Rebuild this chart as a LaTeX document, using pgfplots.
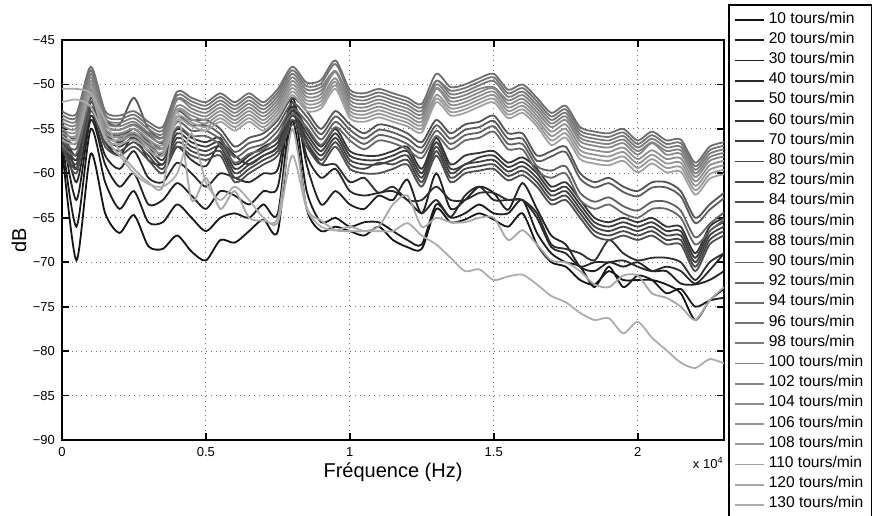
\documentclass[border=0pt]{standalone}
\usepackage{pgfplots}
\pgfplotsset{compat=1.18}
\usepackage{pgfplotstable}
\usepackage{fontspec}
\setmainfont{Liberation Sans}

\definecolor{c10}{gray}{0.08}
\definecolor{c20}{gray}{0.105}
\definecolor{c30}{gray}{0.13}
\definecolor{c40}{gray}{0.155}
\definecolor{c50}{gray}{0.18}
\definecolor{c60}{gray}{0.205}
\definecolor{c70}{gray}{0.23}
\definecolor{c80}{gray}{0.255}
\definecolor{c82}{gray}{0.28}
\definecolor{c84}{gray}{0.305}
\definecolor{c86}{gray}{0.33}
\definecolor{c88}{gray}{0.355}
\definecolor{c90}{gray}{0.38}
\definecolor{c92}{gray}{0.405}
\definecolor{c94}{gray}{0.43}
\definecolor{c96}{gray}{0.455}
\definecolor{c98}{gray}{0.48}
\definecolor{c100}{gray}{0.505}
\definecolor{c102}{gray}{0.53}
\definecolor{c104}{gray}{0.555}
\definecolor{c106}{gray}{0.58}
\definecolor{c108}{gray}{0.605}
\definecolor{c110}{gray}{0.63}
\definecolor{c120}{gray}{0.655}
\definecolor{c130}{gray}{0.68}

\pgfplotstableread{
f t94 t96 t98 t100 t102 t104 t106 t108 t110
0 -53 -53.4 -53.8 -54.2 -54.6 -55 -55.4 -55.8 -56.2
500 -53.3 -53.7 -54.1 -54.5 -54.9 -55.3 -55.7 -56.1 -56.5
1000 -48 -48.4 -48.8 -49.2 -49.6 -50 -50.4 -50.8 -51.2
1500 -53 -53.4 -53.8 -54.2 -54.6 -55 -55.4 -55.8 -56.2
2000 -53.5 -53.9 -54.3 -54.7 -55.1 -55.5 -55.9 -56.3 -56.7
2500 -53 -53.4 -53.8 -54.2 -54.6 -55 -55.4 -55.8 -56.2
3000 -54.2 -54.6 -55 -55.4 -55.8 -56.2 -56.6 -57 -57.4
3500 -54.8 -55.2 -55.6 -56 -56.4 -56.8 -57.2 -57.6 -58
4000 -50.8 -51.2 -51.6 -51.7 -52.4 -52.8 -52.9 -53.6 -54
4500 -51.5 -51.9 -52.3 -52.7 -53.1 -53.5 -53.9 -54.3 -54.7
5000 -52 -52.4 -52.8 -53.2 -53.6 -54 -54.4 -54.8 -55.2
5500 -51 -51.4 -51.8 -52.2 -52.6 -53 -53.4 -53.8 -54.2
6000 -52 -52.4 -52.8 -53.2 -53.6 -54 -54.4 -54.8 -55.2
6500 -51 -51.4 -51.8 -52.2 -52.6 -53 -53.4 -53.8 -54.2
7000 -52 -52.4 -52.8 -53.2 -53.6 -54 -54.4 -54.8 -55.2
7500 -50.5 -50.9 -51.3 -51.7 -52.1 -52.5 -52.9 -53.3 -53.7
8000 -48 -48.4 -48.8 -49.2 -49.6 -50 -50.4 -50.8 -51.2
8500 -49.8 -50.2 -50.6 -51 -51.4 -51.8 -52.2 -52.6 -53
9000 -49.5 -49.9 -50.3 -50.7 -51.1 -51.5 -51.9 -52.3 -52.7
9500 -47.3 -47.7 -48.5 -48.5 -48.6 -49.3 -49.7 -50.1 -50.5
10000 -50.6 -51 -51.4 -51.8 -52.2 -52.6 -53 -53.4 -53.8
10500 -51 -51.4 -51.8 -52.2 -52.6 -53 -53.4 -53.8 -54.2
11000 -50.5 -50.9 -51.3 -51.7 -52.1 -52.5 -52.9 -53.3 -53.7
11500 -51 -51.4 -51.8 -52.2 -52.6 -53 -53.4 -53.8 -54.2
12000 -51.5 -51.9 -52.3 -52.7 -53.1 -53.5 -53.9 -54.3 -54.7
12500 -52.2 -52.6 -53 -53.4 -53.8 -54.2 -54.6 -55 -55.4
13000 -48.8 -49.6 -49.6 -50 -50.4 -50.5 -51.2 -51.6 -52
13500 -50.3 -50.7 -51.1 -51.5 -51.9 -52.3 -52.7 -53.1 -53.5
14000 -50 -50.4 -50.8 -51.2 -51.6 -52 -52.4 -52.8 -53.2
14500 -49.3 -49.7 -50.1 -50.5 -50.9 -51.3 -51.7 -52.1 -52.5
15000 -48.8 -49.2 -49.6 -50.3 -50.4 -50.8 -51.2 -51.6 -52
15500 -50.6 -51 -51.4 -51.8 -52.2 -52.6 -53 -53.4 -53.8
16000 -50 -50.4 -50.8 -51.2 -51.6 -52 -52.4 -52.8 -53.2
16500 -51.5 -51.9 -52.3 -52.7 -53.1 -53.5 -53.9 -54.3 -54.7
17000 -53.2 -53.6 -54 -54.4 -54.8 -55.3 -55.8 -56.3 -56.8
17500 -52.4 -52.8 -53.2 -53.6 -54 -54.5 -55 -55.5 -56
18000 -54.8 -55.2 -55.6 -56 -56.4 -56.9 -57.4 -57.9 -58.4
18500 -55.3 -55.7 -56.1 -56.5 -56.9 -57.4 -57.9 -58.4 -58.9
19000 -55.5 -55.9 -56.3 -56.7 -57.1 -57.6 -58.1 -58.6 -59.1
19500 -55 -55.4 -55.8 -56.2 -56.6 -57.1 -57.6 -58.1 -58.6
20000 -56.3 -56.7 -57.1 -57.5 -57.9 -58.4 -58.9 -59.4 -59.9
20500 -55.3 -55.7 -56.1 -56.5 -56.6 -57.4 -57.9 -58.4 -58.9
21000 -56.3 -56.7 -57.1 -57.5 -57.9 -58.4 -58.9 -59.4 -59.9
21500 -56.2 -56.6 -57 -57.4 -57.8 -58.3 -58.8 -59.3 -59.8
22000 -58.8 -59.2 -59.6 -60 -60.4 -60.9 -61.4 -61.9 -62.4
22500 -57 -57.4 -57.8 -58.2 -58.6 -59.1 -59.6 -60.1 -60.6
23000 -56.5 -56.9 -57.3 -57.7 -58.1 -58.6 -59.1 -59.6 -60.1
}\tabT

\pgfplotstableread{
f b60 b70 b80 b82 b84 b86 b88 b90 b92
0 -55 -55.5 -56 -56.5 -57 -55 -55.6 -56.2 -56.8
500 -58 -58.5 -59 -59.5 -60 -56 -56.6 -57.2 -57.8
1000 -51 -51.5 -52 -52.5 -53 -50 -50.6 -51.2 -51.8
1500 -55 -55.5 -56 -56.5 -57 -54 -54.6 -55.2 -55.8
2000 -56 -56.5 -57 -57.5 -58 -54.5 -55.1 -55.7 -56.3
2500 -55 -55.5 -56 -56.5 -57 -51.5 -54.5 -55 -55.5
3000 -56.5 -57 -57.5 -58 -58.5 -55 -55.6 -56.2 -56.8
3500 -58 -58.5 -59 -59.5 -60 -56 -56.6 -57.2 -57.8
4000 -55 -55.5 -56 -56.5 -57 -53 -53.6 -54.2 -54.8
4500 -56 -56.5 -57 -57.5 -58 -54 -54.6 -55.2 -55.8
5000 -56.5 -57 -57.5 -58 -58.5 -54 -54.6 -55.2 -55.8
5500 -56 -56.5 -57 -57.5 -58 -55 -55.6 -56.2 -56.8
6000 -59 -59.5 -60 -60.5 -61 -57 -57.6 -58.2 -58.8
6500 -58 -58.5 -59 -59.5 -60 -56 -56.6 -57.2 -57.8
7000 -57 -57.5 -58 -58.5 -59 -55.5 -56.1 -56.7 -57.3
7500 -56 -56.5 -57 -57.5 -58 -54 -54.6 -55.2 -55.8
8000 -52.5 -53 -53.5 -54 -54.5 -51.5 -52.1 -52.7 -53.3
8500 -55 -55.5 -56 -56.5 -57 -53 -53.6 -54.2 -54.8
9000 -57 -57.5 -58 -58.5 -59 -55 -55.6 -56.2 -56.8
9500 -55 -55.5 -56 -56.5 -57 -53 -53.6 -54.2 -54.8
10000 -57.5 -58 -58.5 -59 -59.5 -54.5 -55.1 -55.7 -56.3
10500 -58 -58.5 -59 -59.5 -60 -55.5 -56.1 -56.7 -57.3
11000 -58 -58.5 -59 -58.8 -60 -54.5 -55.1 -55.7 -56.3
11500 -57.5 -58 -58.5 -59 -59.5 -54.8 -55.4 -56 -56.6
12000 -57 -57.5 -58 -58.5 -59 -55.5 -56.1 -56.7 -57.3
12500 -59.5 -60 -60.5 -61 -61.5 -56.5 -57.1 -57.7 -58.3
13000 -56 -56.5 -57 -57.5 -58 -54 -54.6 -55.2 -55.8
13500 -59 -59.5 -60 -60.5 -61 -55.5 -56.1 -56.7 -57.3
14000 -58 -59 -59 -59.5 -60 -54.5 -55.1 -55.7 -56.3
14500 -57.7 -58.2 -58.7 -59.2 -59.7 -54.2 -54.8 -55.4 -56
15000 -57.5 -58 -58.5 -59 -59.5 -53.5 -54.1 -54.7 -55.3
15500 -58.8 -59.3 -59.8 -60.3 -60.8 -55.5 -56.1 -56.7 -57.3
16000 -58.2 -58.7 -59.2 -59.7 -60.2 -55.5 -56.1 -56.7 -57.3
16500 -59.5 -60 -60.5 -61 -61.5 -58 -58.6 -59.2 -59.8
17000 -61.5 -62 -62.5 -63 -63.5 -57.5 -58.1 -59.7 -60.5
17500 -61 -61.5 -62 -62.5 -63 -57 -57.6 -59.2 -60
18000 -63 -63.5 -64 -64.5 -65 -60 -60.6 -62.2 -63
18500 -65 -65.5 -66 -66.5 -67 -61 -61.6 -63.2 -64
19000 -65.5 -66 -66.5 -67 -67.5 -60.5 -61.1 -62.7 -63.5
19500 -65 -65.5 -66 -66.5 -67 -61.5 -62.1 -63.7 -64.5
20000 -65.5 -66 -66.5 -67 -67.5 -62 -62.6 -64.2 -65
20500 -65 -65.5 -66 -66.5 -67 -61 -61.6 -63.2 -64
21000 -66 -66.5 -67 -67.5 -68 -61 -61.6 -63.2 -64
21500 -66 -66.5 -67 -67.5 -68 -62 -62.6 -64.2 -65
22000 -69 -69.5 -70 -70.5 -71 -65 -65.6 -67.2 -68
22500 -66 -66.5 -67 -67.5 -68 -63.5 -64.1 -65.7 -66.5
23000 -65 -65.5 -66 -66.5 -67 -62.2 -62.8 -64.4 -65.2
}\tabB

\begin{document}
\begin{tikzpicture}
\path[use as bounding box] (0,0) rectangle (436pt,257.5pt);
\clip (0,0) rectangle (436pt,257.5pt);
\begin{axis}[
  name=ax,
  at={(31pt,37.5pt)}, anchor=south west,
  scale only axis, width=331pt, height=200pt,
  xmin=0, xmax=23000, ymin=-90, ymax=-45,
  xtick={0,5000,10000,15000,20000},
  xticklabels={0,0.5,1,1.5,2},
  ytick={-90,-85,-80,-75,-70,-65,-60,-55,-50,-45},
  yticklabels={−90,−85,−80,−75,−70,−65,−60,−55,−50,−45},
  scaled x ticks=false,
  xmajorgrids, ymajorgrids,
  major grid style={dotted, black!55, line width=0.45pt},
  axis line style={line width=1pt},
  tick align=inside,
  major tick length=3.5pt,
  every tick/.style={black, line width=0.9pt},
  tick label style={font=\fontsize{6.5}{7}\selectfont},
  xlabel={Fréquence (Hz)}, ylabel={dB},
  label style={font=\fontsize{9.15}{10}\selectfont},
  every axis x label/.style={at={(axis description cs:0.5,0)}, anchor=center, yshift=-16pt},
  every axis y label/.style={at={(axis description cs:0,0.5)}, rotate=90, anchor=center, yshift=21.5pt},
  every axis plot/.append style={smooth, tension=0.45},
  legend cell align=left,
  legend image code/.code={\draw[#1, line width=0.9pt] (0pt,0pt) -- (14.5pt,0pt);},
  legend style={at={(axis description cs:1.006,1.09)}, anchor=north west,
    draw=black, line width=1pt, fill=white, inner xsep=2.5pt, inner ysep=2.5pt,
    row sep=0pt, font=\fontsize{7.8}{9}\selectfont,
    nodes={inner xsep=2pt, inner ysep=0pt, text height=6.5pt, text depth=3.6pt}},
]
\addplot[c10, line width=0.9pt] coordinates {(0,-57) (500,-69.8) (1000,-57.8) (1500,-64.5) (2000,-66.7) (2500,-64.7) (3000,-68.2) (3500,-68.5) (4000,-67) (4500,-68.8) (5000,-69.8) (5500,-67.5) (6000,-67.8) (6500,-66.5) (7000,-65.2) (7500,-66.5) (8000,-54) (8500,-64) (9000,-66.5) (9500,-66) (10000,-66.5) (10500,-67) (11000,-66) (11500,-67.5) (12000,-68.3) (12500,-68.5) (13000,-64) (13500,-65.5) (14000,-65.2) (14500,-64.5) (15000,-65.2) (15500,-66) (16000,-64.5) (16500,-68) (17000,-70) (17500,-70.5) (18000,-72) (18500,-72.5) (19000,-71) (19500,-72) (20000,-72) (20500,-72) (21000,-72.5) (21500,-73.5) (22000,-76.5) (22500,-74.3) (23000,-73)};
\addplot[c20, line width=0.9pt] coordinates {(0,-56) (500,-66) (1000,-55) (1500,-61) (2000,-64) (2500,-62) (3000,-65.5) (3500,-65.5) (4000,-63.5) (4500,-65) (5000,-66.5) (5500,-65) (6000,-64.5) (6500,-65) (7000,-63.5) (7500,-64.5) (8000,-52.5) (8500,-62) (9000,-65.5) (9500,-65) (10000,-66) (10500,-65.5) (11000,-65.5) (11500,-66.5) (12000,-67.5) (12500,-68) (13000,-63.5) (13500,-65) (14000,-64.5) (14500,-63.5) (15000,-64.5) (15500,-64.5) (16000,-63) (16500,-66.7) (17000,-69) (17500,-70) (18000,-70.5) (18500,-72.8) (19000,-70.5) (19500,-72.8) (20000,-71.5) (20500,-72) (21000,-73.5) (21500,-73) (22000,-75) (22500,-74.3) (23000,-74)};
\addplot[c30, line width=0.9pt] coordinates {(0,-55) (500,-63) (1000,-54) (1500,-59) (2000,-61.5) (2500,-60) (3000,-63.5) (3500,-63) (4000,-61.1) (4500,-62.5) (5000,-64) (5500,-62) (6000,-62.5) (6500,-63.5) (7000,-62) (7500,-61.5) (8000,-51.5) (8500,-59) (9000,-63.5) (9500,-62) (10000,-63.5) (10500,-64) (11000,-62.5) (11500,-63) (12000,-60.7) (12500,-64.5) (13000,-60) (13500,-64) (14000,-63) (14500,-61.5) (15000,-62.2) (15500,-64.1) (16000,-61.1) (16500,-64) (17000,-67) (17500,-68) (18000,-70.5) (18500,-71) (19000,-70) (19500,-70.5) (20000,-70) (20500,-71) (21000,-71) (21500,-72.4) (22000,-72.5) (22500,-72) (23000,-71)};
\addplot[c40, line width=0.9pt] coordinates {(0,-54.5) (500,-61) (1000,-53.5) (1500,-58) (2000,-59.5) (2500,-57.5) (3000,-60.5) (3500,-61) (4000,-58.8) (4500,-60) (5000,-61.5) (5500,-60) (6000,-60.5) (6500,-61) (7000,-60) (7500,-59.5) (8000,-52) (8500,-58) (9000,-60.5) (9500,-59.5) (10000,-62) (10500,-62.5) (11000,-62.2) (11500,-62) (12000,-63) (12500,-64.5) (13000,-63) (13500,-64.9) (14000,-62.5) (14500,-61.5) (15000,-63) (15500,-63) (16000,-63) (16500,-65) (17000,-68.3) (17500,-69) (18000,-70.5) (18500,-70) (19000,-70) (19500,-69.8) (20000,-70.5) (20500,-71) (21000,-70.5) (21500,-71) (22000,-72.4) (22500,-70.9) (23000,-69)};
\addplot[c50, line width=0.9pt] coordinates {(0,-54) (500,-59.5) (1000,-52.5) (1500,-56.5) (2000,-58) (2500,-55.7) (3000,-58.5) (3500,-59) (4000,-57) (4500,-58.5) (5000,-59.2) (5500,-56.6) (6000,-58) (6500,-59) (7000,-58) (7500,-57) (8000,-52) (8500,-56.5) (9000,-59) (9500,-59) (10000,-61) (10500,-60.5) (11000,-62.2) (11500,-61.5) (12000,-63) (12500,-63) (13000,-61.5) (13500,-63) (14000,-63) (14500,-62.2) (15000,-62.2) (15500,-63) (16000,-63) (16500,-64.5) (17000,-68) (17500,-68.5) (18000,-69) (18500,-69.8) (19000,-67.5) (19500,-69) (20000,-69.8) (20500,-69.5) (21000,-69.5) (21500,-70) (22000,-72) (22500,-70) (23000,-69)};
\addplot[c60, line width=0.9pt] table[x=f, y=b60] {\tabB};
\addplot[c70, line width=0.9pt] table[x=f, y=b70] {\tabB};
\addplot[c80, line width=0.9pt] table[x=f, y=b80] {\tabB};
\addplot[c82, line width=0.9pt] table[x=f, y=b82] {\tabB};
\addplot[c84, line width=0.9pt] table[x=f, y=b84] {\tabB};
\addplot[c86, line width=0.9pt] table[x=f, y=b86] {\tabB};
\addplot[c88, line width=0.9pt] table[x=f, y=b88] {\tabB};
\addplot[c90, line width=0.9pt] table[x=f, y=b90] {\tabB};
\addplot[c92, line width=0.9pt] table[x=f, y=b92] {\tabB};
\addplot[c94, line width=0.9pt] table[x=f, y=t94] {\tabT};
\addplot[c96, line width=0.9pt] table[x=f, y=t96] {\tabT};
\addplot[c98, line width=0.9pt] table[x=f, y=t98] {\tabT};
\addplot[c100, line width=0.9pt] table[x=f, y=t100] {\tabT};
\addplot[c102, line width=0.9pt] table[x=f, y=t102] {\tabT};
\addplot[c104, line width=0.9pt] table[x=f, y=t104] {\tabT};
\addplot[c106, line width=0.9pt] table[x=f, y=t106] {\tabT};
\addplot[c108, line width=0.9pt] table[x=f, y=t108] {\tabT};
\addplot[c110, line width=0.9pt] table[x=f, y=t110] {\tabT};
\addplot[c120, line width=0.9pt] coordinates {(0,-50.5) (500,-50.5) (1000,-51) (1500,-54) (2000,-57.5) (2500,-59.5) (3000,-61) (3500,-61.5) (4000,-53) (4500,-63) (5000,-60.5) (5500,-64) (6000,-62) (6500,-65) (7000,-65.3) (7500,-65) (8000,-55) (8500,-63.8) (9000,-65.3) (9500,-66.4) (10000,-66.5) (10500,-66.5) (11000,-66) (11500,-63.5) (12000,-62.5) (12500,-66) (13000,-65) (13500,-65.5) (14000,-65.5) (14500,-65) (15000,-65) (15500,-67.5) (16000,-66.4) (16500,-68) (17000,-69.8) (17500,-70) (18000,-71) (18500,-72.5) (19000,-72.8) (19500,-71.5) (20000,-71.5) (20500,-73.5) (21000,-74) (21500,-75) (22000,-76.5) (22500,-74.3) (23000,-72.8)};
\addplot[c130, line width=0.9pt] coordinates {(0,-52) (500,-51.7) (1000,-52.5) (1500,-56) (2000,-58) (2500,-60) (3000,-61.2) (3500,-61.5) (4000,-60) (4500,-55.5) (5000,-61) (5500,-63) (6000,-61.5) (6500,-63) (7000,-65) (7500,-65.5) (8000,-58) (8500,-64) (9000,-66) (9500,-66.4) (10000,-66) (10500,-66.5) (11000,-66.5) (11500,-66.5) (12000,-65.6) (12500,-67) (13000,-68) (13500,-69.5) (14000,-71) (14500,-70.8) (15000,-72) (15500,-71.6) (16000,-71.4) (16500,-72.5) (17000,-73.8) (17500,-74.5) (18000,-75.7) (18500,-76.5) (19000,-76.3) (19500,-78) (20000,-76.7) (20500,-78.5) (21000,-79.9) (21500,-81.3) (22000,-81.9) (22500,-80.9) (23000,-81.4)};
\legend{10 tours/min, 20 tours/min, 30 tours/min, 40 tours/min, 50 tours/min, 60 tours/min, 70 tours/min, 80 tours/min, 82 tours/min, 84 tours/min, 86 tours/min, 88 tours/min, 90 tours/min, 92 tours/min, 94 tours/min, 96 tours/min, 98 tours/min, 100 tours/min, 102 tours/min, 104 tours/min, 106 tours/min, 108 tours/min, 110 tours/min, 120 tours/min, 130 tours/min}
\end{axis}
\node[anchor=east, inner sep=0pt, font=\fontsize{6.5}{7}\selectfont] at ([yshift=-11.5pt]ax.south east) {x 10\textsuperscript{4}};
\end{tikzpicture}
\end{document}
